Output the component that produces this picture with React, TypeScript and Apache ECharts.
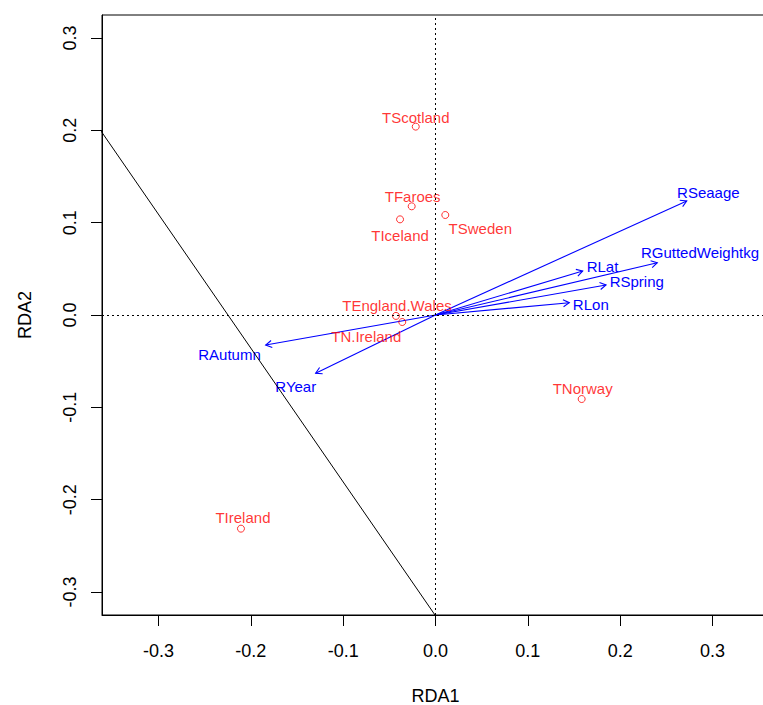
import React, { useEffect, useRef } from "react";
import * as echarts from "echarts";

// Site scores (red points)
const siteNames = ["TScotland", "TFaroes", "TIceland", "TSweden", "TEngland.Wales", "TN.Ireland", "TIreland", "TNorway"];
const siteRDA1 = [-0.0214, -0.0258, -0.0384, 0.0106, -0.0428, -0.036, -0.2107, 0.1583];
const siteRDA2 = [0.204, 0.1177, 0.1036, 0.1083, -0.001, -0.0076, -0.2314, -0.091];

// Variable vectors (blue arrows)
const varNames = ["RSeaage", "RGuttedWeightkg", "RLat", "RSpring", "RLon", "RAutumn", "RYear"];
const varRDA1 = [0.2721, 0.2402, 0.1594, 0.1847, 0.1449, -0.1839, -0.1298];
const varRDA2 = [0.1235, 0.0566, 0.0477, 0.0325, 0.0133, -0.0325, -0.0631];

// Reference line (abline)
const ablineIntercept = -0.3257;
const ablineSlope = -1.449;
const ablineX = [-0.4, 0.05];

// Ticks
const tickValues = [-0.3, -0.2, -0.1, 0.0, 0.1, 0.2, 0.3];

// Label layout (pixel offsets from the mark)
const siteLabelOffsets = [[0, -9], [1, -10], [0, 16], [35, 13], [1, -10], [-36, 14], [2, -11], [1, -11]];
const varLabelOffsets = [[21.6, -8.3], [42.7, -10], [19.8, -4.3], [30.7, -3.3], [21.5, 1.3], [-36.2, 9], [-19.9, 13.4]];

const FONT = "'Liberation Sans', Arial, Helvetica, sans-serif";

export default function App() {
  const ref = useRef<HTMLDivElement>(null);
  useEffect(() => {
    if (!ref.current) return;
    const chart = echarts.init(ref.current, undefined, { renderer: "svg" });

    const siteData = siteNames.map((n, i) => ({
      name: n,
      value: [siteRDA1[i], siteRDA2[i]],
      label: { offset: siteLabelOffsets[i] },
    }));
    const varData = varNames.map((n, i) => [varRDA1[i], varRDA2[i], i]);
    const ablineData = ablineX.map((x) => [x, ablineIntercept + ablineSlope * x]);

    const axisCommon = {
      type: "value" as const,
      axisLine: { show: true, onZero: false, lineStyle: { color: "#000", width: 1 } },
      axisTick: { show: true, inside: false, length: 11, lineStyle: { color: "#000", width: 1 }, customValues: tickValues },
      splitLine: { show: false },
      axisLabel: {
        customValues: tickValues,
        formatter: (v: number) => v.toFixed(1),
        color: "#000",
        fontSize: 18,
        fontFamily: FONT,
      },
      nameTextStyle: { color: "#000", fontSize: 18, fontFamily: FONT },
    };

    chart.setOption({
      animation: false,
      backgroundColor: "#fff",
      grid: {
        left: 102, top: 15, width: 667, height: 600,
        show: true, borderColor: "#000", borderWidth: 1, backgroundColor: "transparent",
        containLabel: false, outerBoundsMode: "none",
      },
      xAxis: {
        ...axisCommon,
        min: -0.3612,
        max: 0.3612,
        position: "bottom",
        name: "RDA1",
        nameLocation: "middle",
        nameGap: 71.5,
        axisLabel: { ...axisCommon.axisLabel, margin: 27 },
      },
      yAxis: {
        ...axisCommon,
        min: -0.3249,
        max: 0.3249,
        position: "left",
        name: "RDA2",
        nameLocation: "middle",
        nameRotate: 90,
        nameGap: 68.5,
        axisLabel: { ...axisCommon.axisLabel, rotate: 90, margin: 23 },
      },
      series: [
        {
          type: "line",
          data: ablineData,
          symbol: "none",
          clip: true,
          lineStyle: { color: "#000", width: 1 },
          silent: true,
          markLine: {
            silent: true,
            symbol: "none",
            label: { show: false },
            lineStyle: { color: "#000", width: 1, type: [2, 3] },
            data: [{ xAxis: 0 }, { yAxis: 0 }],
          },
        },
        {
          type: "custom",
          data: varData,
          clip: false,
          renderItem: (params: any, api: any) => {
            const i = api.value(2);
            const o = api.coord([0, 0]);
            const t = api.coord([api.value(0), api.value(1)]);
            const ang = Math.atan2(t[1] - o[1], t[0] - o[0]);
            const L = 7;
            const a = Math.PI / 6;
            const p1 = [t[0] - L * Math.cos(ang - a), t[1] - L * Math.sin(ang - a)];
            const p2 = [t[0] - L * Math.cos(ang + a), t[1] - L * Math.sin(ang + a)];
            const off = varLabelOffsets[i];
            return {
              type: "group",
              children: [
                { type: "line", shape: { x1: o[0], y1: o[1], x2: t[0], y2: t[1] }, style: { stroke: "#0000FF", lineWidth: 1.1 } },
                { type: "polyline", shape: { points: [p1, t, p2] }, style: { stroke: "#0000FF", lineWidth: 1.1, fill: null } },
                {
                  type: "text",
                  x: t[0] + off[0],
                  y: t[1] + off[1],
                  style: {
                    text: varNames[i],
                    fill: "#0000FF",
                    font: `15px ${FONT}`,
                    textAlign: "center",
                    textVerticalAlign: "middle",
                    align: "center",
                    verticalAlign: "middle",
                  },
                },
              ],
            };
          },
        },
        {
          type: "scatter",
          data: siteData,
          symbol: "circle",
          symbolSize: 7,
          itemStyle: { color: "rgba(0,0,0,0)", borderColor: "#FF0000", borderWidth: 1 },
          label: {
            show: true,
            position: "inside",
            formatter: (p: any) => p.name,
            color: "#FF0000",
            fontSize: 15,
            fontFamily: FONT,
            textBorderWidth: 0,
          },
        },
      ],
    });
    return () => chart.dispose();
  }, []);
  return <div ref={ref} style={{ position: "fixed", left: 0, top: 0, width: 763, height: 705, background: "#fff" }} />;
}
